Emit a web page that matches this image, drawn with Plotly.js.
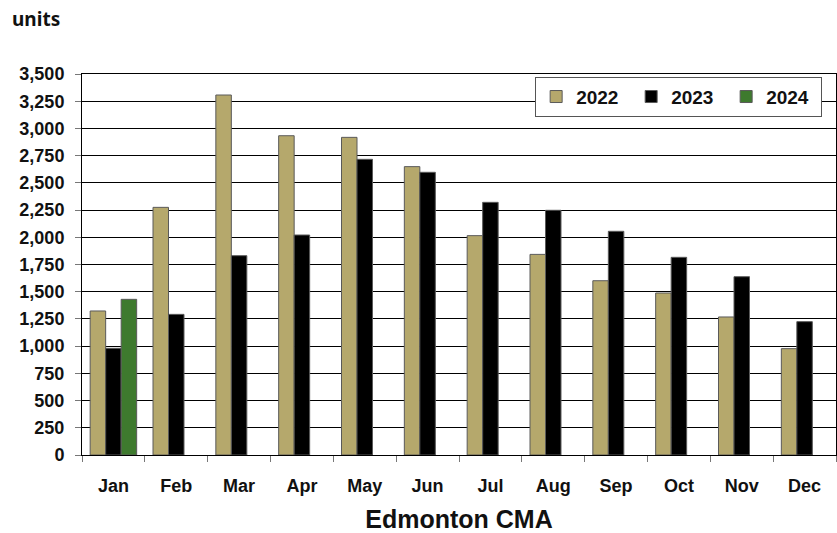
<!DOCTYPE html>
<html>
<head>
<meta charset="utf-8">
<script src="https://cdn.plot.ly/plotly-3.0.1.min.js"></script>
<style>html,body{margin:0;padding:0;background:#fff;}#chart{width:837px;height:533px;}</style>
</head>
<body>
<div id="chart"></div>
<script>
const months = ["Jan","Feb","Mar","Apr","May","Jun","Jul","Aug","Sep","Oct","Nov","Dec"];
const y2022 = [1323, 2275, 3307, 2933, 2918, 2649, 2015, 1843, 1601, 1488, 1268, 977];
const y2023 = [980, 1292, 1831, 2021, 2716, 2597, 2321, 2248, 2055, 1816, 1638, 1225];
const y2024 = [1430, null, null, null, null, null, null, null, null, null, null, null];
const seriesNames = ["2022", "2023", "2024"];
const yTicks = [0, 250, 500, 750, 1000, 1250, 1500, 1750, 2000, 2250, 2500, 2750, 3000, 3250, 3500];

const font = {family: "Liberation Sans, Arial, sans-serif", color: "#111", weight: "bold"};
const outline = {color: "#5a5a5a", width: 1};

const traces = [
  {type: "bar", name: seriesNames[0], x: months, y: y2022, marker: {color: "#b5a86c", line: outline}},
  {type: "bar", name: seriesNames[1], x: months, y: y2023, marker: {color: "#000000", line: outline}},
  {type: "bar", name: seriesNames[2], x: months, y: y2024, marker: {color: "#3e7a2e", line: outline}}
];

const layout = {
  width: 837, height: 533,
  margin: {l: 82, r: 1, t: 74, b: 78, autoexpand: false},
  paper_bgcolor: "#fff", plot_bgcolor: "#fff",
  barmode: "group", bargap: 0.26, bargroupgap: 0,
  font: Object.assign({size: 18}, font),
  showlegend: true,
  legend: {
    orientation: "h", x: 0.601, y: 0.993, xanchor: "left", yanchor: "top",
    bgcolor: "#fff", bordercolor: "#555", borderwidth: 1,
    font: Object.assign({size: 19}, font),
    itemwidth: 30, entrywidth: 50, entrywidthmode: "pixels", tracegroupgap: 0
  },
  xaxis: {
    type: "category", showline: true, linecolor: "#000", linewidth: 1, mirror: true,
    ticks: "outside", tickson: "boundaries", ticklen: 6, tickcolor: "#777",
    ticklabelstandoff: 14,
    tickfont: Object.assign({size: 18}, font),
    showgrid: false, automargin: false,
    title: {text: "Edmonton CMA", font: Object.assign({size: 25}, font), standoff: 19}
  },
  yaxis: {
    range: [0, 3500], tickvals: yTicks, tickformat: ",d",
    showline: true, linecolor: "#000", linewidth: 1, mirror: true,
    ticks: "outside", ticklen: 6, tickcolor: "#777", ticklabelstandoff: 7,
    gridcolor: "#000", gridwidth: 1, zeroline: false, automargin: false,
    tickfont: Object.assign({size: 18}, font)
  },
  annotations: [{
    text: "units", xref: "paper", yref: "paper", x: -0.095, y: 1.145,
    xanchor: "left", yanchor: "middle", showarrow: false,
    font: {family: "Noto Sans, sans-serif", size: 19, color: "#111", weight: "bold"}
  }]
};

Plotly.newPlot("chart", traces, layout, {displayModeBar: false, staticPlot: true});
</script>
</body>
</html>
